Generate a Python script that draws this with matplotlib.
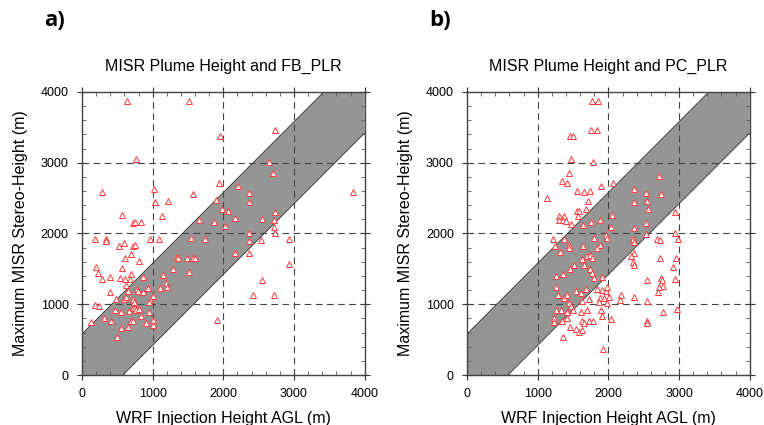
import matplotlib.pyplot as plt
import numpy as np
from matplotlib.ticker import MultipleLocator

# panel a: WRF FB_PLR injection height vs MISR max stereo height (m)
fb_x = [635, 1509, 2731, 1951, 771, 2651, 2708, 277, 1025, 1570, 3831, 1034,
        1213, 2209, 1932, 2360, 1894, 1988, 2360, 2068, 573, 1128, 1650, 1875,
        2172, 2026, 2543, 2722, 2726, 2717, 2726, 2360, 2360, 2529, 2928, 2360,
        2167, 724, 747, 841, 179, 334, 343, 964, 1095, 517, 588, 715, 752, 691,
        611, 813, 1537, 1744, 193, 221, 573, 287, 390, 536, 611, 696, 682, 625,
        870, 395, 658, 780, 790, 865, 940, 1147, 1293, 1340, 1359, 1490, 1570,
        1603, 1518, 1194, 1199, 1105, 480, 592, 621, 715, 738, 1011, 969, 950,
        188, 240, 470, 555, 668, 724, 757, 766, 808, 955, 306, 409, 691, 729,
        832, 902, 1006, 1006, 132, 550, 649, 494, 1913, 2416, 2722, 2543, 2924]
fb_y = [3877, 3877, 3467, 3373, 3057, 3009, 2858, 2590, 2632, 2561, 2585, 2448,
        2453, 2665, 2712, 2571, 2472, 2349, 2443, 2321, 2264, 2241, 2189, 2165,
        2217, 2099, 2198, 2193, 2307, 2094, 2005, 2005, 1887, 1910, 1925, 1731,
        1731, 2146, 2160, 2160, 1925, 1929, 1901, 1925, 1929, 1821, 1863, 1830,
        1835, 1712, 1660, 1613, 1943, 1925, 1533, 1439, 1519, 1363, 1391, 1373,
        1354, 1429, 1358, 1269, 1391, 1175, 1193, 1212, 1184, 1175, 1236, 1420,
        1505, 1670, 1660, 1651, 1660, 1660, 1458, 1302, 1240, 1226, 1080, 1080,
        1104, 1080, 1038, 1118, 1061, 1028, 991, 976, 920, 887, 910, 943, 943,
        920, 929, 896, 811, 759, 764, 764, 840, 736, 783, 712, 745, 670, 684,
        542, 778, 1132, 1132, 1344, 1566]

# panel b: WRF PC_PLR injection height vs MISR max stereo height (m)
pc_x = [1773, 1853, 1759, 1839, 1456, 1494, 1466, 1787, 1447, 1348, 1418, 2714,
        1896, 2071, 1130, 1551, 1650, 1735, 1707, 1688, 2364, 2539, 2742, 2359,
        2543, 2557, 1305, 1371, 1305, 1352, 1395, 1475, 1551, 1584, 1565, 1636,
        1759, 1882, 2047, 2033, 2359, 2534, 2539, 1220, 1239, 1376, 1442, 1447,
        1314, 1792, 1962, 1986, 1882, 1844, 1636, 2350, 2359, 2695, 2728, 2936,
        2979, 2936, 2369, 2326, 2350, 2369, 2733, 2960, 2913, 2936, 2742, 2756,
        2766, 2719, 2700, 2548, 2359, 2184, 2161, 2553, 2766, 2969, 2543, 2548,
        2033, 1924, 1357, 1253, 1253, 1291, 1362, 1456, 1517, 1622, 1693, 1745,
        1764, 1735, 1773, 1801, 1655, 1537, 1617, 1678, 1844, 1915, 1971, 1877,
        1938, 2009, 1976, 1867, 1726, 1622, 1371, 1409, 1442, 1475, 1494, 1418,
        1333, 1253, 1229, 1234, 1348, 1418, 1608, 1693, 1631, 1655, 1726, 1782,
        1456, 1537, 1584, 1622, 1915, 1901, 1915, 1976]
pc_y = [3877, 3877, 3467, 3467, 3373, 3373, 3057, 3009, 2858, 2745, 2712, 2806,
        2665, 2712, 2495, 2594, 2585, 2604, 2453, 2349, 2627, 2571, 2561, 2443,
        2458, 2344, 2250, 2250, 2184, 2193, 2170, 2137, 2311, 2321, 2241, 2118,
        2165, 2193, 2264, 2085, 2075, 2146, 1995, 1925, 1830, 1925, 1840, 1792,
        1745, 1934, 1981, 1943, 1844, 1792, 1825, 1920, 1877, 1925, 1910, 2005,
        1925, 2302, 1731, 1679, 1604, 1557, 1651, 1660, 1533, 1358, 1377, 1344,
        1259, 1240, 1170, 1339, 1099, 1132, 1061, 1047, 896, 934, 764, 731,
        792, 363, 542, 1401, 1240, 1132, 1425, 1505, 1557, 1637, 1675, 1698,
        1651, 1505, 1439, 1368, 1557, 1189, 1156, 1212, 1212, 1203, 1193, 1085,
        1085, 1099, 1014, 1038, 1075, 1047, 1094, 1127, 1014, 976, 920, 896,
        920, 920, 802, 745, 764, 802, 896, 920, 764, 731, 769, 769,
        684, 646, 613, 637, 835, 920, 1391, 1240]

panels = [("a)", "MISR Plume Height and FB_PLR", fb_x, fb_y),
          ("b)", "MISR Plume Height and PC_PLR", pc_x, pc_y)]

band_half_width = 580
axis_max = 4000

plt.rcParams['font.family'] = ['Liberation Sans', 'DejaVu Sans']

fig = plt.figure(figsize=(7.64, 4.25), dpi=100)
ax_lefts = [0.1073, 0.6113]

for left, (tag, title, xs, ys) in zip(ax_lefts, panels):
    ax = fig.add_axes([left, 0.1176, 0.370, 0.666])

    # 1:1 band of +/- band_half_width
    line = np.array([0, axis_max])
    ax.fill_between(line, line - band_half_width, line + band_half_width,
                    facecolor='#959595', edgecolor='none', zorder=1)
    ax.plot(line, line - band_half_width, color='#333333', lw=0.6, zorder=1.5)
    ax.plot(line, line + band_half_width, color='#333333', lw=0.6, zorder=1.5)

    for v in (1000, 2000, 3000):
        ax.axvline(v, color='#444444', lw=0.8, ls=(0, (6, 4)), zorder=2)
        ax.axhline(v, color='#444444', lw=0.8, ls=(0, (6, 4)), zorder=2)

    ax.plot(xs, ys, ls='none', marker='^', ms=4.0, mfc='white',
            mec='#ff3b3b', mew=0.7, zorder=3)

    ax.set_xlim(0, axis_max)
    ax.set_ylim(0, axis_max)
    ax.xaxis.set_major_locator(MultipleLocator(1000))
    ax.yaxis.set_major_locator(MultipleLocator(1000))
    ax.xaxis.set_minor_locator(MultipleLocator(200))
    ax.yaxis.set_minor_locator(MultipleLocator(200))
    ax.tick_params(which='major', direction='inout', length=7, width=0.8,
                   top=True, right=True, labelsize=9, color='#333333', pad=6)
    ax.tick_params(which='minor', direction='in', length=3, width=0.6,
                   top=True, right=True, color='#555555')
    for s in ax.spines.values():
        s.set_color('#444444')
        s.set_linewidth(1.0)

    ax.set_title(title, fontsize=11.5, pad=15)
    ax.set_xlabel("WRF Injection Height AGL (m)", fontsize=11.5, labelpad=8)
    ax.set_ylabel("Maximum MISR Stereo-Height (m)", fontsize=11.5, labelpad=9)

    fig.text(left - 0.049, 0.952, tag, fontsize=16, fontweight='bold',
             family=['Open Sans', 'DejaVu Sans'], va='center')

fig.savefig("out.png", dpi=100)
